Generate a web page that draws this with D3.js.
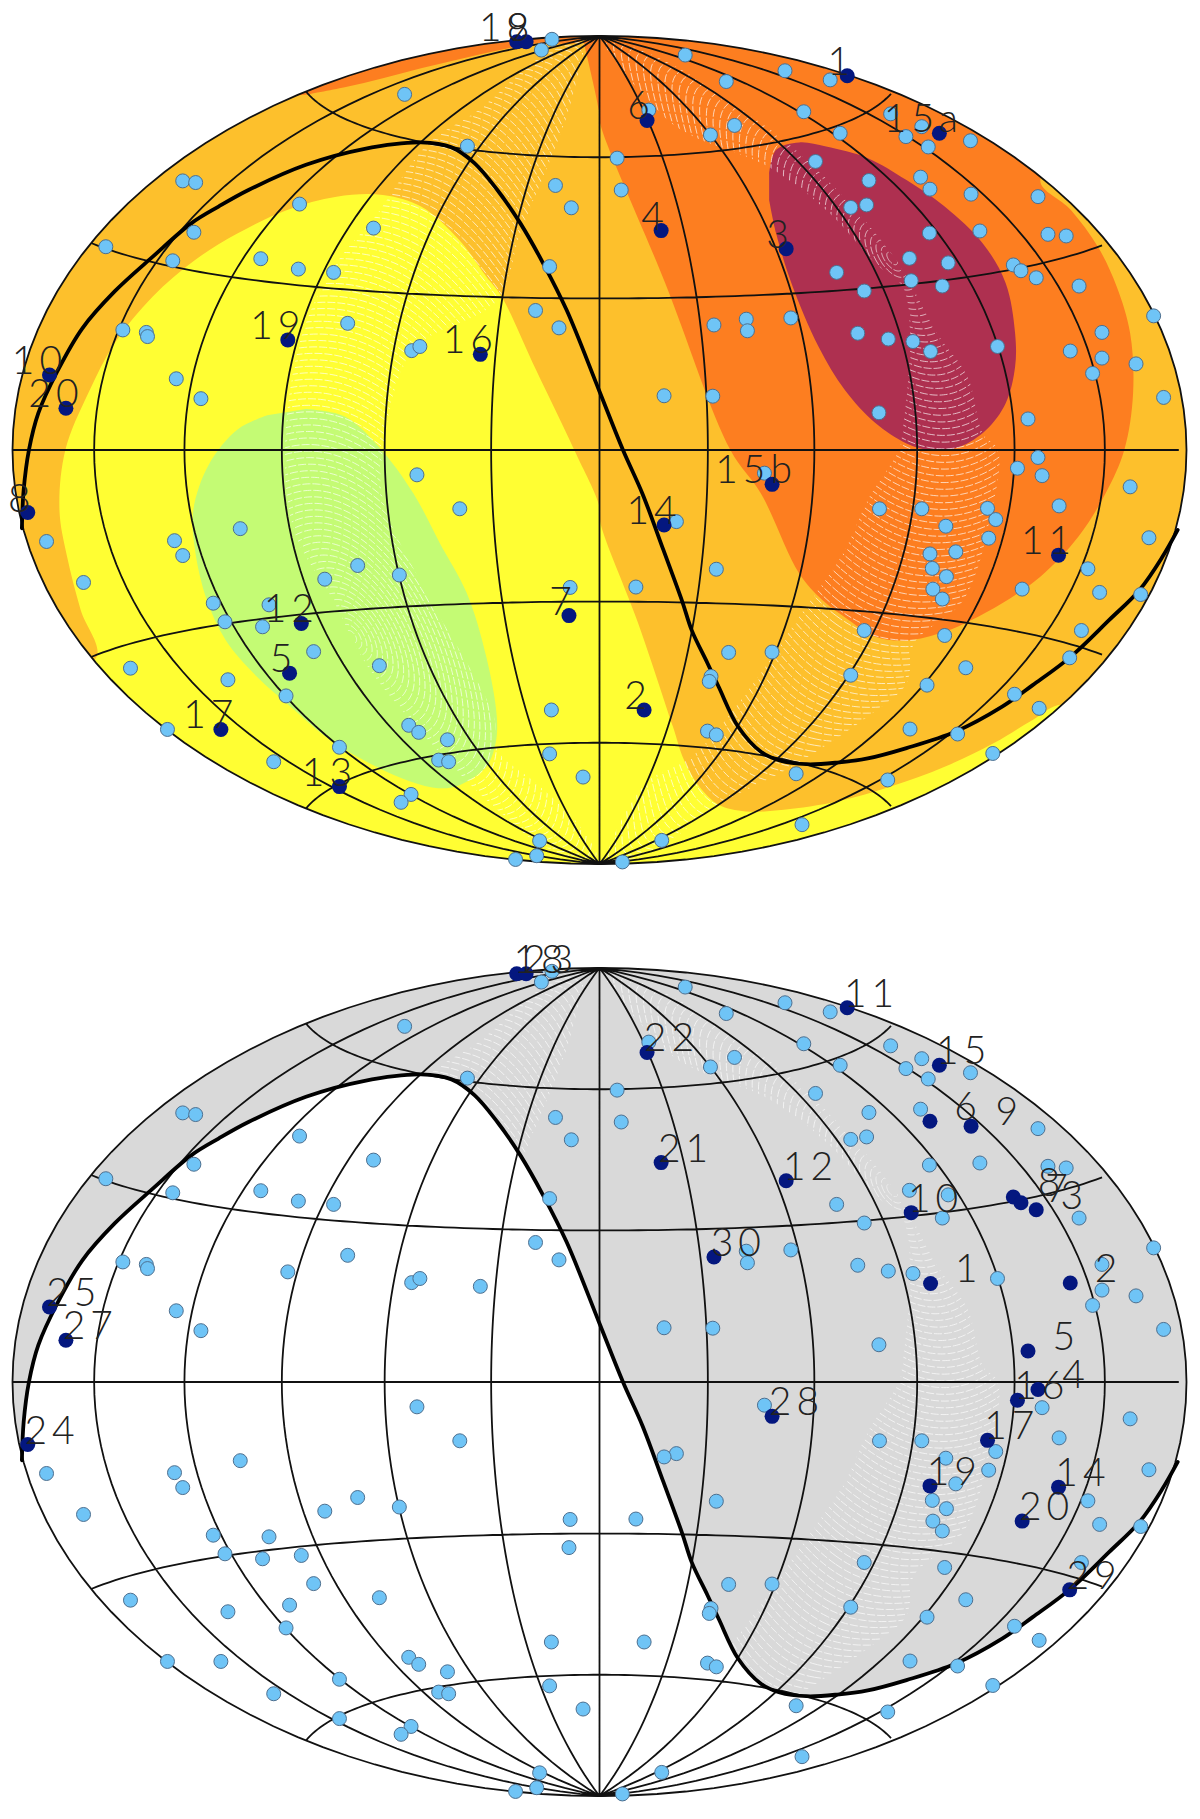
<!DOCTYPE html>
<html>
<head>
<meta charset="utf-8">
<script src="https://cdn.jsdelivr.net/npm/d3@7"></script>
<style>
  html, body { margin: 0; padding: 0; background: #fff; }
  text { font-family: Lato, "Open Sans", sans-serif; font-weight: 300; }
</style>
</head>
<body>
<svg id="chart" width="1200" height="1819"></svg>
<script>
// All map positions are Hammer-plane units: x and y both run from -1 to 1 across the ellipse.

// Sites that stay unnumbered in both maps
const plainSites = [
[-.081,.992],[-.099,.966],[-.332,.859],[-.710,.650],[-.688,.646],[-.225,.734],[-.075,.639],[-.048,.585],
[-.511,.594],[-.385,.536],[-.691,.526],[-.841,.491],[-.727,.457],[-.577,.462],[-.513,.437],[-.453,.429],
[-.085,.443],[-.109,.337],[-.069,.295],[-.812,.290],[-.772,.284],[-.770,.274],[-.429,.306],[-.320,.240],
[-.306,.250],[-.721,.172],[-.679,.124],[-.942,-.221],[-.724,-.219],[-.710,-.255],[-.612,-.190],[-.879,-.320],
[-.658,-.370],[-.638,-.415],[-.563,-.374],[-.574,-.427],[-.468,-.312],[-.412,-.279],[-.341,-.302],[-.311,-.060],
[-.238,-.142],[-.050,-.332],[-.487,-.487],[-.375,-.521],[-.799,-.527],[-.633,-.555],[-.534,-.594],[-.082,-.628],
[-.736,-.675],[-.555,-.753],[-.443,-.718],[-.325,-.665],[-.308,-.682],[-.259,-.700],[-.274,-.749],[-.257,-.753],
[-.085,-.734],[-.028,-.790],[-.321,-.832],[-.338,-.851],[-.102,-.944],[-.107,-.980],[-.143,-.989],
[.146,.954],[.316,.916],[.393,.894],[.216,.890],[.084,.821],[.348,.817],[.496,.812],[.549,.781],
[.522,.757],[.632,.747],[.560,.732],[.230,.784],[.189,.761],[.410,.765],[.030,.705],[.368,.697],
[.037,.628],[.459,.651],[.547,.659],[.747,.612],[.428,.586],[.455,.592],[.562,.524],[.648,.529],
[.764,.521],[.795,.517],[.528,.463],[.594,.452],[.404,.429],[.817,.396],[.584,.396],[.451,.384],
[.944,.324],[.326,.319],[.250,.316],[.252,.288],[.856,.284],[.440,.282],[.492,.268],[.534,.262],
[.678,.250],[.856,.222],[.914,.208],[.840,.185],[.110,.131],[.193,.130],[.961,.127],[.476,.090],
[.281,-.056],[.131,-.173],[.754,-.062],[.904,-.089],[.477,-.142],[.549,-.142],[.783,-.135],[.590,-.184],
[.675,-.168],[.663,-.213],[.936,-.212],[.607,-.246],[.567,-.286],[.591,-.306],[.832,-.287],[.199,-.288],
[.568,-.336],[.584,-.360],[.852,-.344],[.922,-.349],[.062,-.331],[.451,-.436],[.588,-.448],[.821,-.436],
[.220,-.489],[.294,-.488],[.624,-.526],[.428,-.544],[.558,-.568],[.190,-.547],[.187,-.559],[.707,-.590],
[.749,-.624],[.529,-.674],[.184,-.679],[.199,-.688],[.610,-.686],[.670,-.733],[.335,-.782],[.491,-.797],
[.345,-.905],[.106,-.943],[.039,-.995]
];

// Numbered sites: x, y, number in the upper map, number in the lower map
const numberedSites = [
[-.141,.986,"18","18"],[-.125,.986,"9","23"],
[-.531,.266,"19",null],[-.203,.231,"16",null],
[-.937,.181,"10","25"],[-.909,.101,"20","27"],[-.974,-.151,"8","24"],
[-.508,-.419,"12",null],[-.528,-.539,"5",null],[-.052,-.400,"7",null],
[-.645,-.675,"17",null],[-.443,-.813,"13",null],
[.422,.904,"1","11"],[.081,.796,"6","22"],[.579,.765,"15a","15"],
[.105,.530,"4","21"],[.318,.486,"3","12"],[.294,-.083,"15b","28"],
[.110,-.181,"14",null],[.782,-.254,"11","14"],[.076,-.628,"2",null],
[.563,.630,null,"6"],[.633,.618,null,"9"],[.531,.409,null,"10"],
[.705,.447,null,"8"],[.718,.433,null,"7"],[.744,.416,null,"3"],
[.195,.302,null,"30"],[.564,.238,null,"1"],[.802,.239,null,"2"],
[.730,.075,null,"5"],[.747,-.018,null,"4"],[.712,-.044,null,"16"],
[.661,-.141,null,"17"],[.563,-.251,null,"19"],[.720,-.336,null,"20"],[.801,-.502,null,"29"]
];

// Edge of the exposed sky
const exposureEdge = [
[-.984,-.189],[-.981,-.097],[-.972,0],[-.956,.089],[-.924,.189],[-.881,.294],[-.826,.383],
[-.761,.467],[-.695,.548],[-.649,.588],[-.598,.628],[-.500,.689],[-.402,.727],[-.304,.743],[-.252,.731],[-.213,.693],
[-.174,.628],[-.135,.548],[-.096,.451],[-.056,.338],[-.001,.145],[.040,0],[.073,-.105],[.109,-.242],
[.141,-.366],[.157,-.435],[.184,-.515],[.203,-.572],[.236,-.668],[.275,-.729],[.307,-.750],[.353,-.759],[.405,-.755],
[.457,-.745],[.523,-.720],[.607,-.680],[.686,-.620],[.738,-.568],[.803,-.499],[.868,-.411],[.920,-.338],
[.959,-.258],[.985,-.193]
];

// Filled level bands of the upper map
const orangeLobe = [
[-.027,.986],[-.001,.821],[.001,.789],[.112,.403],[.223,0],[.275,-.105],[.340,-.298],[.379,-.362],
[.425,-.411],[.470,-.451],[.523,-.460],[.588,-.439],[.633,-.411],[.686,-.370],[.751,-.306],[.816,-.209],
[.862,-.105],[.894,0],[.909,.137],[.904,.282],[.881,.395],[.849,.491],[.803,.580],[.751,.652],
[.9,.8],[.5,1.15],[-.027,1.15]
];
const orangeSliver = [
[-.500,.858],[-.434,.876],[-.369,.898],[-.304,.922],[-.239,.944],[-.174,.965],[-.108,.982],[-.027,.994],
[-.027,1.2],[-.6,1.2],[-.6,.85]
];
const crimsonCore = [
[.289,.668],[.301,.725],[.340,.743],[.386,.733],[.457,.705],[.523,.652],[.588,.588],[.653,.499],
[.692,.403],[.708,.282],[.708,.201],[.692,.113],[.659,.049],[.614,.008],[.568,-.001],[.523,.016],
[.470,.065],[.418,.145],[.373,.250],[.327,.403],[.301,.523],[.289,.604]
];
const yellowLobe = [
[-1.1,-.55],[-.858,-.503],[-.884,-.386],[-.907,-.258],[-.920,-.145],[-.910,0],[-.871,.137],[-.826,.258],
[-.761,.371],[-.689,.459],[-.617,.523],[-.532,.580],[-.448,.612],[-.369,.616],[-.304,.588],[-.239,.507],
[-.193,.419],[-.167,.371],[-.108,.193],[-.043,0],[0,-.137],[.001,-.173],[.066,-.419],[.125,-.668],
[.144,-.749],[.170,-.813],[.203,-.857],[.249,-.873],[.314,-.869],[.405,-.849],[.496,-.813],[.588,-.765],
[.672,-.708],[.738,-.652],[.79,-.615],[.95,-.72],[1.1,-1.1],[-1.1,-1.1]
];
const greenCore = [
[-.500,.099],[-.434,.081],[-.376,.008],[-.317,-.105],[-.272,-.225],[-.226,-.346],
[-.193,-.499],[-.175,-.644],[-.177,-.708],[-.193,-.765],[-.245,-.813],[-.285,-.815],[-.337,-.793],[-.402,-.749],
[-.467,-.692],[-.526,-.620],[-.584,-.547],[-.637,-.459],[-.669,-.362],[-.689,-.242],[-.692,-.145],[-.665,-.034],
[-.616,.05],[-.566,.084]
];

// Stretches of the sky where the fine ring lines show through
const ringBandEast = [
[.001,.994],[.040,.982],[.131,.926],[.216,.846],[.314,.749],[.405,.628],[.497,.475],[.523,.419],
[.575,.282],[.627,.177],[.653,.040],[.679,0],
[.666,-.161],[.620,-.362],[.536,-.467],[.523,-.564],[.457,-.644],[.327,-.765],[.197,-.861],[.105,-.958],
[.014,-.998],[.079,-.805],[.157,-.741],[.262,-.564],[.340,-.403],[.418,-.242],[.457,-.121],[.510,0],
[.516,.040],[.529,.282],[.516,.395],[.470,.451],[.392,.572],[.288,.684],[.131,.781],[.021,.950]
];
const ringBandWest = [
[-.024,.982],[-.056,.805],[-.135,.523],[-.174,.362],[-.317,.242],[-.369,0],[-.369,-.121],[-.304,-.322],
[-.180,-.644],[-.174,-.725],[-.108,-.805],[-.037,-.902],[-.004,-.990],[-.095,-.958],[-.174,-.869],[-.239,-.781],
[-.395,-.523],[-.454,-.362],[-.519,-.201],[-.536,0],[-.506,.282],[-.448,.451],[-.382,.564],[-.291,.741],
[-.206,.821],[-.108,.942],[-.043,.990]
];

const meridians = [-150,-120,-90,-60,-30,0,30,60,90,120,150];
const parallels = [-60,-30,0,30,60];
const ringCentre = [98, 35];
const ringRadii = d3.range(1.2, 180, 1.2);

const bandColors = { amber:"#fdc02c", orange:"#fd7e20", crimson:"#ae3050", yellow:"#fffe33", green:"#c4fb74" };
const grey = "#d9d9d9";
const lightDot = "#6fc4f6";
const darkDot = "#04177f";

const halfWidth = 587, halfHeight = 414, midX = 599.5;
const svg = d3.select("#chart");

function hammerRaw(lam, phi) {
  const z = Math.sqrt(1 + Math.cos(phi) * Math.cos(lam / 2));
  return [Math.cos(phi) * Math.sin(lam / 2) / z, (halfHeight / halfWidth) * Math.sin(phi) / z];
}

function drawMap(panel) {
  const midY = panel.midY, id = panel.id;
  const g = svg.append("g");
  const projection = d3.geoProjection(hammerRaw).scale(halfWidth).translate([midX, midY]).precision(0.4);
  const geo = d3.geoPath(projection);
  const x = d3.scaleLinear([-1, 1], [midX - halfWidth, midX + halfWidth]);
  const y = d3.scaleLinear([-1, 1], [midY + halfHeight, midY - halfHeight]);
  const smooth = d3.line(d => x(d[0]), d => y(d[1])).curve(d3.curveCatmullRom.alpha(0.5));
  const straight = d3.line(d => x(d[0]), d => y(d[1]));

  const defs = g.append("defs");
  defs.append("clipPath").attr("id", id + "-sky").append("path").attr("d", geo({type:"Sphere"}));
  const bandClip = defs.append("clipPath").attr("id", id + "-bands");
  [ringBandEast, ringBandWest].forEach(b => bandClip.append("path").attr("d", smooth(b) + "Z"));

  const sky = g.append("g").attr("clip-path", `url(#${id}-sky)`);
  sky.append("path").attr("d", geo({type:"Sphere"})).attr("fill", panel.background);
  panel.fills.forEach(f => sky.append("path").attr("d", smooth(f.points) + "Z").attr("fill", f.color));

  // Concentric rings, visible only inside the two bands
  const circle = d3.geoCircle().center(ringCentre).precision(1.5);
  const rings = sky.append("g").attr("clip-path", `url(#${id}-bands)`)
    .attr("fill", "none").attr("stroke", "#fff").attr("stroke-width", 0.9).attr("stroke-opacity", 0.75)
    .attr("stroke-dasharray", "8 2");
  ringRadii.forEach(r => {
    const c = circle.radius(r)();
    rings.append("path").attr("d", geo({type:"LineString", coordinates:c.coordinates[0]}));
  });

  if (panel.exposedWhite) {
    const ends = [[1.3,-.193],[1.3,-1.3],[-1.3,-1.3],[-1.3,-.189]];
    sky.append("path").attr("d", smooth(exposureEdge) + straight(ends).replace("M","L") + "Z").attr("fill", "#fff");
  }

  // Graticule
  const grid = {type:"MultiLineString", coordinates:[
    ...meridians.map(m => d3.range(-90, 90.01, 2).map(p => [m, p])),
    ...parallels.map(p => d3.range(-179.99, 180, 3).map(m => [m, p]))
  ]};
  g.append("path").attr("d", geo(grid)).attr("fill", "none").attr("stroke", "#111").attr("stroke-width", 1.8);
  g.append("path").attr("d", geo({type:"Sphere"})).attr("fill", "none").attr("stroke", "#111").attr("stroke-width", 1.8);

  g.append("path").attr("d", smooth(exposureEdge)).attr("fill", "none").attr("stroke", "#000")
    .attr("stroke-width", 3.8).attr("stroke-linecap", "round");

  // Sites
  const labelled = numberedSites.filter(d => d[panel.labelColumn] !== null);
  const unlabelled = numberedSites.filter(d => d[panel.labelColumn] === null);
  g.append("g").selectAll("circle").data([...plainSites, ...unlabelled]).join("circle")
    .attr("cx", d => x(d[0])).attr("cy", d => y(d[1])).attr("r", 7)
    .attr("fill", lightDot).attr("stroke", "#4d6f8f").attr("stroke-width", 1);
  g.append("g").selectAll("circle").data(labelled).join("circle")
    .attr("cx", d => x(d[0])).attr("cy", d => y(d[1])).attr("r", 7.5)
    .attr("fill", darkDot);
  g.append("g").selectAll("text").data(labelled).join("text")
    .attr("x", d => x(d[0]) + panel.labelDx(d[panel.labelColumn]))
    .attr("y", d => y(d[1]) - 1)
    .attr("text-anchor", panel.labelAnchor)
    .attr("font-size", 39).attr("letter-spacing", 5).attr("fill", "#222")
    .text(d => d[panel.labelColumn]);
}

drawMap({
  id:"upper", midY:450, background:bandColors.amber, exposedWhite:false, labelColumn:2,
  fills:[
    {points:orangeLobe, color:bandColors.orange},
    {points:orangeSliver, color:bandColors.orange},
    {points:crimsonCore, color:bandColors.crimson},
    {points:yellowLobe, color:bandColors.yellow},
    {points:greenCore, color:bandColors.green}
  ],
  labelAnchor:"middle",
  labelDx: s => s.length === 1 ? -6 : s.length === 2 ? -10 : -16
});
drawMap({
  id:"lower", midY:1382, background:grey, exposedWhite:true, labelColumn:3,
  fills:[],
  labelAnchor:"end",
  labelDx: () => 52
});
</script>
</body>
</html>
